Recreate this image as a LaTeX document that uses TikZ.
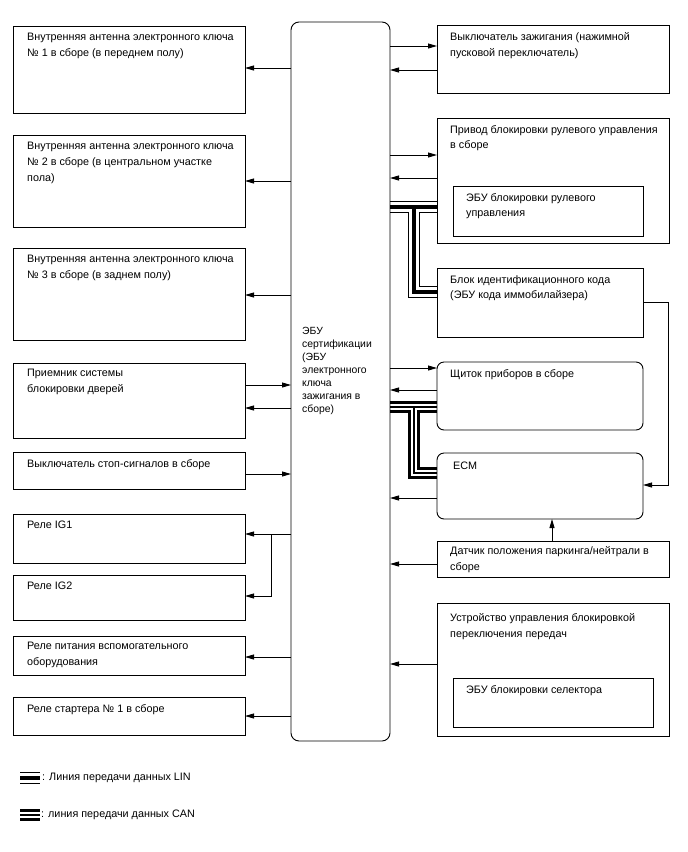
\documentclass[tikz,border=0pt]{standalone}
\usepackage{fontspec}
\setmainfont{Liberation Sans}
\usetikzlibrary{arrows.meta}
\pgfdeclarelayer{bg}
\pgfsetlayers{bg,main}
\begin{document}
\begin{tikzpicture}[x=1pt,y=-1pt,
  bx/.style={draw, line width=0.9pt, anchor=north west, inner sep=0pt, outer sep=0pt},
  rbx/.style={bx, rounded corners=7pt},
  txt/.style={anchor=north west, inner sep=0pt, align=left, font=\fontsize{10.8pt}{15.8pt}\selectfont},
  arr/.style={line width=0.8pt, -{Triangle[length=9pt,width=5pt]}},
]
\path[use as bounding box] (0,0) rectangle (688,852);

% ECU
\node[rbx, rounded corners=8pt, minimum width=99pt, minimum height=719pt] (ecu) at (291,22) {};
\node[txt, font=\fontsize{10.4pt}{13pt}\selectfont] (tecu) at (302,327) {ЭБУ\\сертификации\\(ЭБУ\\электронного\\ключа\\зажигания в\\сборе)};

% left boxes
\node[bx, minimum width=232pt, minimum height=87pt] (l1) at (13,26) {};
\node[bx, minimum width=232pt, minimum height=92pt] (l2) at (13,135) {};
\node[bx, minimum width=232pt, minimum height=92pt] (l3) at (13,248) {};
\node[bx, minimum width=232pt, minimum height=75pt] (l4) at (13,363) {};
\node[bx, minimum width=232pt, minimum height=37pt] (l5) at (13,452) {};
\node[bx, minimum width=232pt, minimum height=49pt] (l6) at (13,514) {};
\node[bx, minimum width=232pt, minimum height=45pt] (l7) at (13,575) {};
\node[bx, minimum width=232pt, minimum height=39pt] (l8) at (13,636) {};
\node[bx, minimum width=232pt, minimum height=38pt] (l9) at (13,697) {};

\node[txt] (tl1) at ([shift={(14,7)}]l1.north west) {Внутренняя антенна электронного ключа\\№ 1 в сборе (в переднем полу)};
\node[txt] (tl2) at ([shift={(14,7)}]l2.north west) {Внутренняя антенна электронного ключа\\№ 2 в сборе (в центральном участке\\пола)};
\node[txt] (tl3) at ([shift={(14,7)}]l3.north west) {Внутренняя антенна электронного ключа\\№ 3 в сборе (в заднем полу)};
\node[txt] (tl4) at ([shift={(14,6)}]l4.north west) {Приемник системы\\блокировки дверей};
\node[txt] (tl5) at ([shift={(14,7)}]l5.north west) {Выключатель стоп-сигналов в сборе};
\node[txt] (tl6) at ([shift={(14,7)}]l6.north west) {Реле IG1};
\node[txt] (tl7) at ([shift={(14,7)}]l7.north west) {Реле IG2};
\node[txt] (tl8) at ([shift={(14,6)}]l8.north west) {Реле питания вспомогательного\\оборудования};
\node[txt] (tl9) at ([shift={(14,7)}]l9.north west) {Реле стартера № 1 в сборе};

% right boxes
\node[bx, minimum width=232pt, minimum height=68pt] (r1) at (437,25) {};
\node[bx, minimum width=232pt, minimum height=125pt] (r2) at (437,118) {};
\node[bx, minimum width=190pt, minimum height=50pt] (r2i) at (453,186) {};
\node[bx, minimum width=206pt, minimum height=69pt] (r3) at (437,268) {};
\node[rbx, minimum width=206pt, minimum height=68pt] (r4) at (437,362) {};
\node[rbx, minimum width=206pt, minimum height=66pt] (r5) at (437,453) {};
\node[bx, minimum width=232pt, minimum height=36pt] (r6) at (437,541) {};
\node[bx, minimum width=232pt, minimum height=133pt] (r7) at (437,603) {};
\node[bx, minimum width=200pt, minimum height=49pt] (r7i) at (453,678) {};

\node[txt] (tr1) at ([shift={(13,7)}]r1.north west) {Выключатель зажигания (нажимной\\пусковой переключатель)};
\node[txt] (tr2) at ([shift={(13,7)}]r2.north west) {Привод блокировки рулевого управления\\в сборе};
\node[txt] (tr2i) at ([shift={(13,7)}]r2i.north west) {ЭБУ блокировки рулевого\\управления};
\node[txt] (tr3) at ([shift={(13,7)}]r3.north west) {Блок идентификационного кода\\(ЭБУ кода иммобилайзера)};
\node[txt] (tr4) at ([shift={(13,7)}]r4.north west) {Щиток приборов в сборе};
\node[txt] (tr5) at ([shift={(16,9)}]r5.north west) {ECM};
\node[txt] (tr6) at ([shift={(13,5)}]r6.north west) {Датчик положения паркинга/нейтрали в\\сборе};
\node[txt] (tr7) at ([shift={(13,10)}]r7.north west) {Устройство управления блокировкой\\переключения передач};
\node[txt] (tr7i) at ([shift={(13,7)}]r7i.north west) {ЭБУ блокировки селектора};

% arrows left side
\draw[arr] (ecu.west |- 0,68) -- (l1.east |- 0,68);
\draw[arr] (ecu.west |- 0,181) -- (l2.east |- 0,181);
\draw[arr] (ecu.west |- 0,295) -- (l3.east |- 0,295);
\draw[arr] (l4.east |- 0,385) -- (ecu.west |- 0,385);
\draw[arr] (ecu.west |- 0,408) -- (l4.east |- 0,408);
\draw[arr] (l5.east |- 0,474) -- (ecu.west |- 0,474);
\draw[arr] (ecu.west |- 0,534) -- (l6.east |- 0,534);
\coordinate (br) at (271,534);
\draw[arr] (br) |- (l7.east |- 0,596);
\draw[arr] (ecu.west |- 0,657) -- (l8.east |- 0,657);
\draw[arr] (ecu.west |- 0,716) -- (l9.east |- 0,716);

% arrows right side
\draw[arr] (ecu.east |- 0,46) -- (r1.west |- 0,46);
\draw[arr] (r1.west |- 0,70) -- (ecu.east |- 0,70);
\draw[arr] (ecu.east |- 0,155) -- (r2.west |- 0,155);
\draw[arr] (r2.west |- 0,178) -- (ecu.east |- 0,178);
\draw[arr] (ecu.east |- 0,368) -- (r4.west |- 0,368);
\draw[arr] (r4.west |- 0,390) -- (ecu.east |- 0,390);
\draw[arr] (r5.west |- 0,498) -- (ecu.east |- 0,498);
\draw[arr] (r6.west |- 0,564) -- (ecu.east |- 0,564);
\draw[arr] (r7.west |- 0,664) -- (ecu.east |- 0,664);
\coordinate (idc) at (668,485);
\draw[arr] (r3.east |- 0,302) -| (idc) -- (r5.east |- idc);
\draw[arr] (r6.north -| 552,0) -- (r5.south -| 552,0);

% buses
\coordinate (lt) at (414,207);
\coordinate (ct) at (414,407);
\begin{pgfonlayer}{bg}
\foreach \w/\c in {12/black, 9.5/white, 4/black}{
  \draw[line width=\w pt, \c] (ecu.east |- lt) -- (r2.west |- lt) (lt) |- (r3.west |- 0,292);
}
\foreach \w/\c in {12/black, 6/white, 1.5/black}{
  \draw[line width=\w pt, \c] (ecu.east |- ct) -- (r4.west |- ct) (ct) |- (r5.west |- 0,473);
}
\end{pgfonlayer}

% legend
\foreach \w/\c in {12/black, 9.5/white, 4/black}{
  \draw[line width=\w pt, \c] (20,778) -- (40,778);
}
\foreach \w/\c in {12/black, 6/white, 1.5/black}{
  \draw[line width=\w pt, \c] (20,815) -- (40,815);
}
\node[txt, anchor=west] (leg1) at (42,778) {: Линия передачи данных LIN};
\node[txt, anchor=west] (leg2) at (41,815) {: линия передачи данных CAN};
\end{tikzpicture}
\end{document}
